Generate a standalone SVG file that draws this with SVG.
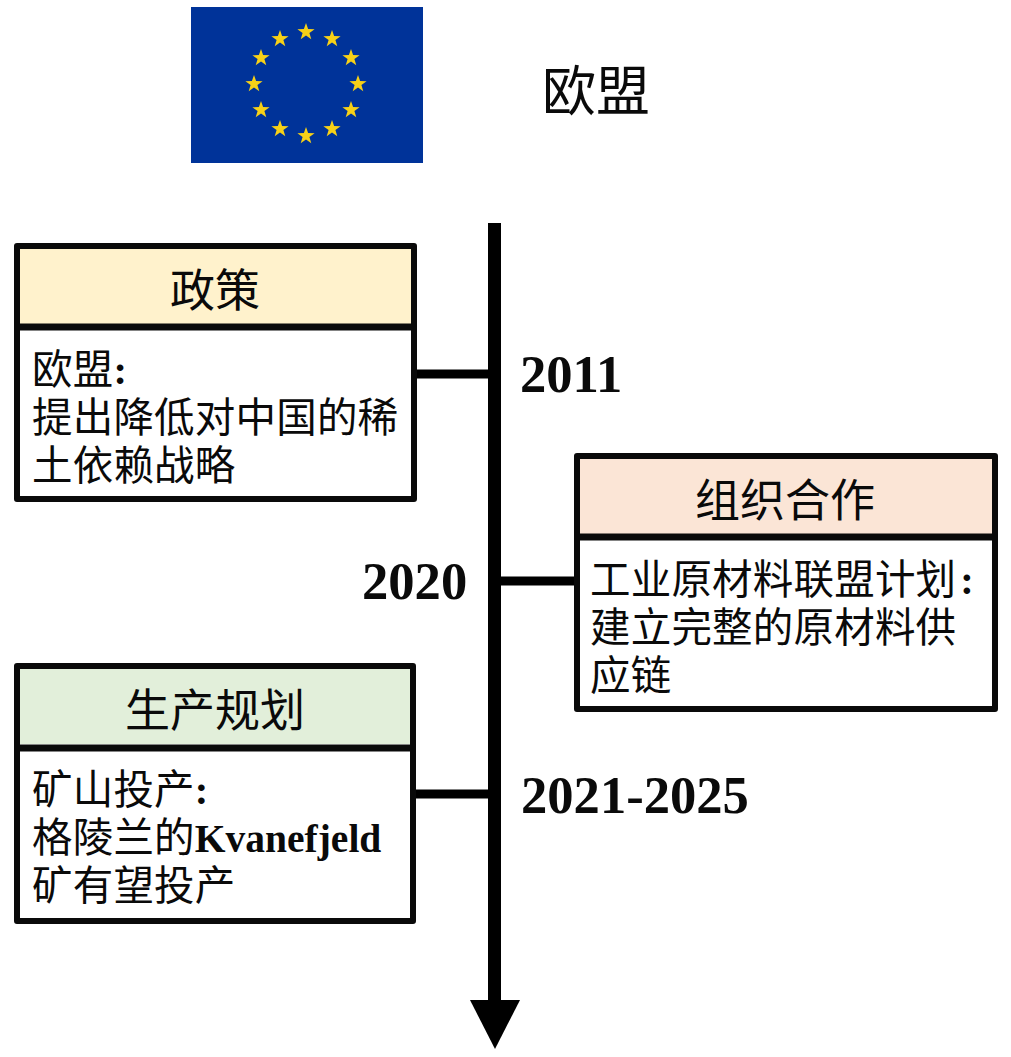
<svg xmlns="http://www.w3.org/2000/svg" width="1011" height="1057" viewBox="0 0 1011 1057">
<style>
text{fill:#0a0a0a;font-family:"Noto Sans CJK SC","Liberation Serif",sans-serif}
.t{font-size:45px;text-anchor:middle}
.b{font-size:40.5px;letter-spacing:.2px}
.l{font-family:"Liberation Serif",serif;font-weight:bold}
.k{font-size:39.5px;letter-spacing:0}
.y{font-family:"Liberation Serif",serif;font-weight:bold;font-size:52.6px}
.box{fill:#fff;stroke:#0a0a0a;stroke-width:6;stroke-linejoin:round}
.div{stroke:#0a0a0a;stroke-width:7}
.c{stroke:#000;stroke-width:9;fill:none}
.star{fill:#f7d117}
</style>
<defs>
<polygon id="s" points="0,-9 2.1,-2.9 8.6,-2.8 3.4,1.1 5.3,7.3 0,3.6 -5.3,7.3 -3.4,1.1 -8.6,-2.8 -2.1,-2.9"/>
</defs>
<g id="flag">
<rect x="191" y="7" width="232" height="156" fill="#003399"/>
<g class="star">
<use href="#s" x="306" y="32"/><use href="#s" x="332" y="39"/><use href="#s" x="351" y="58"/><use href="#s" x="358" y="84"/><use href="#s" x="351" y="110"/><use href="#s" x="332" y="129"/><use href="#s" x="306" y="136"/><use href="#s" x="280" y="129"/><use href="#s" x="261" y="110"/><use href="#s" x="254" y="84"/><use href="#s" x="261" y="58"/><use href="#s" x="280" y="39"/>
</g>
</g>
<g id="title"><text x="542" y="111" font-size="54">欧盟</text></g>
<g id="connectors">
<line class="c" x1="415" y1="374" x2="490" y2="374"/>
<line class="c" x1="499" y1="581" x2="577" y2="581"/>
<line class="c" x1="414" y1="794" x2="490" y2="794"/>
<rect x="488" y="223" width="13" height="780" fill="#000"/>
<polygon points="470,1000 520,1000 495,1049" fill="#000"/>
</g>
<g id="policy">
<rect class="box" x="17" y="246" width="397" height="253"/>
<rect x="20" y="249" width="391" height="75" fill="#fff2cc"/>
<line class="div" x1="17" y1="327" x2="414" y2="327"/>
<text class="t" x="215" y="307">政策</text>
<text class="b"><tspan x="32" y="384">欧盟<tspan class="l">:</tspan></tspan><tspan x="32" y="432">提出降低对中国的稀</tspan><tspan x="32" y="480">土依赖战略</tspan></text>
</g>
<g id="org">
<rect class="box" x="577" y="456" width="418" height="253"/>
<rect x="580" y="459" width="412" height="75" fill="#fbe5d6"/>
<line class="div" x1="577" y1="537" x2="995" y2="537"/>
<text class="t" x="785" y="517">组织合作</text>
<text class="b"><tspan x="590" y="594">工业原材料联盟计划<tspan class="l" dx="4">:</tspan></tspan><tspan x="590" y="642">建立完整的原材料供</tspan><tspan x="590" y="690">应链</tspan></text>
</g>
<g id="production">
<rect class="box" x="17" y="666" width="396" height="255"/>
<rect x="20" y="669" width="390" height="75" fill="#e2efda"/>
<line class="div" x1="17" y1="748" x2="413" y2="748"/>
<text class="t" x="215" y="727">生产规划</text>
<text class="b"><tspan x="32" y="804">矿山投产<tspan class="l">:</tspan></tspan><tspan x="32" y="852">格陵兰的<tspan class="l k">Kvanefjeld</tspan></tspan><tspan x="32" y="900">矿有望投产</tspan></text>
</g>
<g id="years">
<text class="y" x="520" y="392">2011</text>
<text class="y" x="362" y="599">2020</text>
<text class="y" x="521" y="813">2021-2025</text>
</g>
</svg>
